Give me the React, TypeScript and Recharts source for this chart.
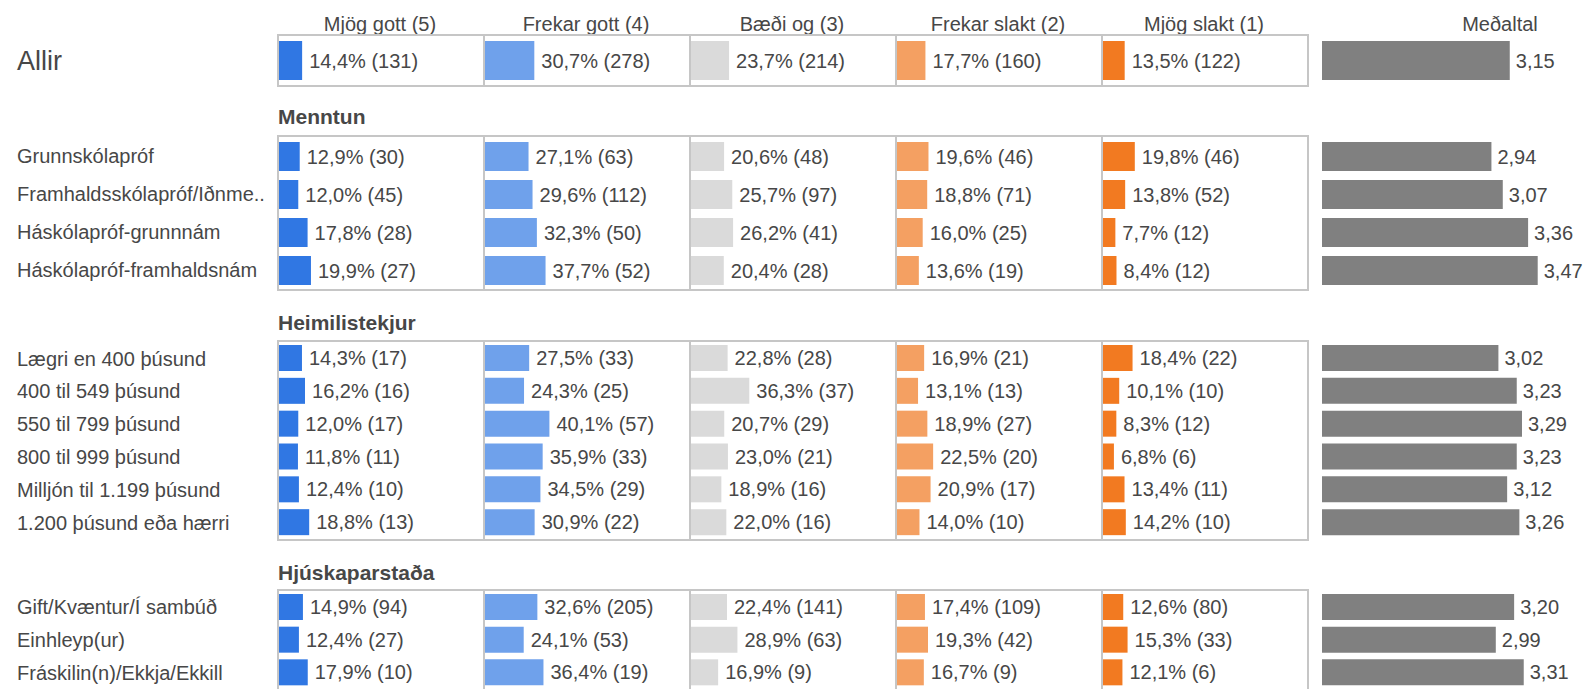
import React from 'react';
import { BarChart, Bar, XAxis, YAxis, LabelList } from 'recharts';

// ---------- data ----------
const answerTitles = ['Mjög gott (5)', 'Frekar gott (4)', 'Bæði og (3)', 'Frekar slakt (2)', 'Mjög slakt (1)'];
const meanTitle = 'Meðaltal';

const allirCategories = ['Allir'];
const allirPct = [[14.4], [30.7], [23.7], [17.7], [13.5]];
const allirCount = [[131], [278], [214], [160], [122]];
const allirMean = [3.15];

const menntunTitle = 'Menntun';
const menntunCategories = ['Grunnskólapróf', 'Framhaldsskólapróf/Iðnme..', 'Háskólapróf-grunnnám', 'Háskólapróf-framhaldsnám'];
const menntunPct = [
  [12.9, 12.0, 17.8, 19.9],
  [27.1, 29.6, 32.3, 37.7],
  [20.6, 25.7, 26.2, 20.4],
  [19.6, 18.8, 16.0, 13.6],
  [19.8, 13.8, 7.7, 8.4],
];
const menntunCount = [
  [30, 45, 28, 27],
  [63, 112, 50, 52],
  [48, 97, 41, 28],
  [46, 71, 25, 19],
  [46, 52, 12, 12],
];
const menntunMean = [2.94, 3.07, 3.36, 3.47];

const tekjurTitle = 'Heimilistekjur';
const tekjurCategories = ['Lægri en 400 þúsund', '400 til 549 þúsund', '550 til 799 þúsund', '800 til 999 þúsund', 'Milljón til 1.199 þúsund', '1.200 þúsund eða hærri'];
const tekjurPct = [
  [14.3, 16.2, 12.0, 11.8, 12.4, 18.8],
  [27.5, 24.3, 40.1, 35.9, 34.5, 30.9],
  [22.8, 36.3, 20.7, 23.0, 18.9, 22.0],
  [16.9, 13.1, 18.9, 22.5, 20.9, 14.0],
  [18.4, 10.1, 8.3, 6.8, 13.4, 14.2],
];
const tekjurCount = [
  [17, 16, 17, 11, 10, 13],
  [33, 25, 57, 33, 29, 22],
  [28, 37, 29, 21, 16, 16],
  [21, 13, 27, 20, 17, 10],
  [22, 10, 12, 6, 11, 10],
];
const tekjurMean = [3.02, 3.23, 3.29, 3.23, 3.12, 3.26];

const hjuskapTitle = 'Hjúskaparstaða';
const hjuskapCategories = ['Gift/Kvæntur/Í sambúð', 'Einhleyp(ur)', 'Fráskilin(n)/Ekkja/Ekkill'];
const hjuskapPct = [
  [14.9, 12.4, 17.9],
  [32.6, 24.1, 36.4],
  [22.4, 28.9, 16.9],
  [17.4, 19.3, 16.7],
  [12.6, 15.3, 12.1],
];
const hjuskapCount = [
  [94, 27, 10],
  [205, 53, 19],
  [141, 63, 9],
  [109, 42, 9],
  [80, 33, 6],
];
const hjuskapMean = [3.20, 2.99, 3.31];

// ---------- styles ----------
const answerColors = ['#3077e3', '#6fa1eb', '#dadada', '#f4a062', '#f27a21'];
const meanColor = '#808080';
const textColor = '#474747';
const borderColor = '#c6c6c6';
const FONT = '"Liberation Sans", Arial, Helvetica, sans-serif';

const colLefts = [277, 483, 689, 895, 1101, 1307];
const meanLeft = 1322;
const meanWidth = 262;
const labelLeft = 16;
const labelWidth = 258;
const BORDER = 2;

type Group = {
  title: string;
  categories: string[];
  pct: number[][];
  count: number[][];
  mean: number[];
  top: number;
  height: number;
  barSize: number;
  titleCenter: number | null;
  labelSize: number;
};

const groups: Group[] = [
  { title: '', categories: allirCategories, pct: allirPct, count: allirCount, mean: allirMean, top: 34, height: 53, barSize: 39, titleCenter: null, labelSize: 27 },
  { title: menntunTitle, categories: menntunCategories, pct: menntunPct, count: menntunCount, mean: menntunMean, top: 135, height: 156, barSize: 29, titleCenter: 117, labelSize: 20 },
  { title: tekjurTitle, categories: tekjurCategories, pct: tekjurPct, count: tekjurCount, mean: tekjurMean, top: 340, height: 201, barSize: 26, titleCenter: 323, labelSize: 20 },
  { title: hjuskapTitle, categories: hjuskapCategories, pct: hjuskapPct, count: hjuskapCount, mean: hjuskapMean, top: 589, height: 102, barSize: 26, titleCenter: 573, labelSize: 20 },
];

const fmtPct = (p: number, n: number) => `${p.toFixed(1).replace('.', ',')}% (${n})`;
const fmtMean = (m: number) => m.toFixed(2).replace('.', ',');

const RowTick = (props: any) => {
  const { y, payload, size } = props;
  return (
    <text x={1} y={y} dy="0.355em" textAnchor="start" fill={textColor} fontSize={size} fontFamily={FONT}>
      {payload.value}
    </text>
  );
};

function GroupBlock({ g }: { g: Group }) {
  const innerH = g.height - 2 * BORDER;
  const labelRows = g.categories.map((name) => ({ name }));
  const meanRows = g.categories.map((name, i) => ({ name, mean: g.mean[i], label: fmtMean(g.mean[i]) }));
  return (
    <>
      {g.titleCenter !== null && (
        <div
          style={{
            position: 'absolute', left: 278, top: g.titleCenter - 12, height: 24, lineHeight: '24px',
            fontSize: 21, fontWeight: 'bold', color: textColor, whiteSpace: 'nowrap',
          }}
        >
          {g.title}
        </div>
      )}
      {/* row labels */}
      <div style={{ position: 'absolute', left: labelLeft, top: g.top + BORDER }}>
        <BarChart layout="vertical" width={labelWidth + 2} height={innerH} data={labelRows} margin={{ top: 0, right: 0, bottom: 0, left: 0 }}>
          <XAxis type="number" hide domain={[0, 1]} />
          <YAxis
            type="category"
            dataKey="name"
            width={labelWidth}
            tickLine={false}
            axisLine={false}
            interval={0}
            tick={(p: any) => <RowTick {...p} size={g.labelSize} />}
          />
        </BarChart>
      </div>
      {/* answer columns */}
      {answerTitles.map((t, c) => {
        const left = colLefts[c];
        const w = colLefts[c + 1] - left + BORDER;
        const rows = g.categories.map((name, i) => ({
          name,
          pct: g.pct[c][i],
          label: fmtPct(g.pct[c][i], g.count[c][i]),
        }));
        return (
          <div
            key={t}
            style={{
              position: 'absolute', left, top: g.top, width: w, height: g.height,
              boxSizing: 'border-box', border: `${BORDER}px solid ${borderColor}`,
            }}
          >
            <BarChart layout="vertical" width={w - 2 * BORDER} height={innerH} data={rows} margin={{ top: 0, right: 0, bottom: 0, left: 0 }} barSize={g.barSize}>
              <XAxis type="number" hide domain={[0, 127]} />
              <YAxis type="category" dataKey="name" hide />
              <Bar dataKey="pct" fill={answerColors[c]} isAnimationActive={false}>
                <LabelList dataKey="label" position="right" offset={7} fill={textColor} fontSize={20} fontFamily={FONT} />
              </Bar>
            </BarChart>
          </div>
        );
      })}
      {/* mean column */}
      <div style={{ position: 'absolute', left: meanLeft, top: g.top + BORDER }}>
        <BarChart layout="vertical" width={meanWidth} height={innerH} data={meanRows} margin={{ top: 0, right: 0, bottom: 0, left: 0 }} barSize={g.barSize}>
          <XAxis type="number" hide domain={[1, 4]} allowDataOverflow />
          <YAxis type="category" dataKey="name" hide />
          <Bar dataKey="mean" fill={meanColor} isAnimationActive={false}>
            <LabelList dataKey="label" position="right" offset={6} fill={textColor} fontSize={20} fontFamily={FONT} />
          </Bar>
        </BarChart>
      </div>
    </>
  );
}

export default function App() {
  return (
    <div
      style={{
        position: 'absolute', left: 0, top: 0, width: 1585, height: 689, overflow: 'hidden',
        background: '#ffffff', fontFamily: FONT, color: textColor,
      }}
    >
      {answerTitles.map((t, c) => (
        <div
          key={t}
          style={{
            position: 'absolute', left: colLefts[c], width: colLefts[c + 1] - colLefts[c], top: 12,
            height: 24, lineHeight: '24px', fontSize: 20, textAlign: 'center', whiteSpace: 'nowrap',
          }}
        >
          {t}
        </div>
      ))}
      <div
        style={{
          position: 'absolute', left: 1440, width: 120, top: 12, height: 24, lineHeight: '24px',
          fontSize: 20, textAlign: 'center', whiteSpace: 'nowrap',
        }}
      >
        {meanTitle}
      </div>
      {groups.map((g, i) => (
        <GroupBlock key={i} g={g} />
      ))}
    </div>
  );
}
